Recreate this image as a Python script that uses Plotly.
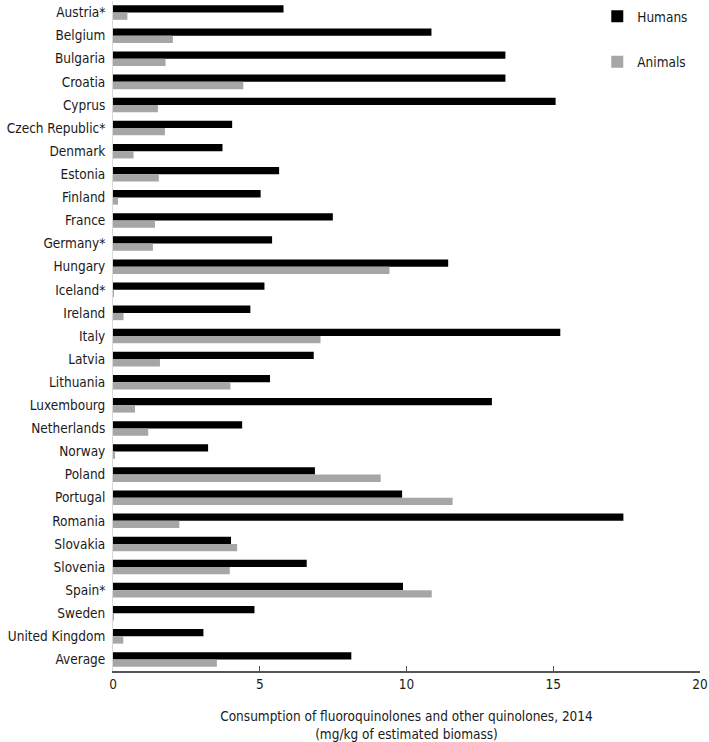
import plotly.graph_objects as go

countries = [
    "Austria*", "Belgium", "Bulgaria", "Croatia", "Cyprus", "Czech Republic*",
    "Denmark", "Estonia", "Finland", "France", "Germany*", "Hungary",
    "Iceland*", "Ireland", "Italy", "Latvia", "Lithuania", "Luxembourg",
    "Netherlands", "Norway", "Poland", "Portugal", "Romania", "Slovakia",
    "Slovenia", "Spain*", "Sweden", "United Kingdom", "Average",
]

humans = [
    5.81, 10.85, 13.37, 13.37, 15.08, 4.06,
    3.73, 5.66, 5.03, 7.49, 5.42, 11.42,
    5.16, 4.68, 15.24, 6.84, 5.35, 12.91,
    4.40, 3.24, 6.88, 9.85, 17.39, 4.02,
    6.60, 9.88, 4.82, 3.08, 8.12,
]
animals = [
    0.49, 2.04, 1.79, 4.44, 1.53, 1.77,
    0.70, 1.56, 0.17, 1.43, 1.36, 9.42,
    0.02, 0.36, 7.07, 1.60, 4.00, 0.75,
    1.20, 0.07, 9.12, 11.57, 2.26, 4.23,
    3.98, 10.86, 0.03, 0.35, 3.54,
]

x_ticks = [0, 5, 10, 15, 20]
x_title = ("Consumption of fluoroquinolones and other quinolones, 2014<br>"
           "(mg/kg of estimated biomass)")

FONT = "DejaVu Sans Condensed, DejaVu Sans, sans-serif"

fig = go.Figure()
fig.add_trace(go.Bar(
    y=countries, x=humans, orientation="h", name="Humans",
    marker=dict(color="#000000", line=dict(width=0)),
    legendgroup="h",
))
fig.add_trace(go.Bar(
    y=countries, x=animals, orientation="h", name="Animals",
    marker=dict(color="#a6a6a6", line=dict(width=0)),
    legendgroup="a",
))

fig.update_layout(
    width=709, height=742,
    margin=dict(l=113, r=9, t=1, b=71),
    paper_bgcolor="white", plot_bgcolor="white",
    barmode="group", bargap=0.37, bargroupgap=0,
    font=dict(family=FONT, size=13.5, color="#1a1a1a"),
    legend=dict(
        x=0.825, y=1.0, xanchor="left", yanchor="top",
        traceorder="grouped", tracegroupgap=25,
        font=dict(size=13.5), bgcolor="rgba(0,0,0,0)",
        itemwidth=30,
    ),
    xaxis=dict(
        range=[0, 20], tickvals=x_ticks, showgrid=False, zeroline=False,
        showline=True, linecolor="#555555", linewidth=1.5,
        ticks="inside", ticklen=5, tickcolor="#555555",
        automargin=False, ticklabeloverflow="allow",
        title=dict(text=x_title, font=dict(size=13.5), standoff=21),
    ),
    yaxis=dict(
        autorange="reversed", showgrid=False, zeroline=False,
        showline=True, linecolor="#d9d9d9", linewidth=1,
        ticks="", ticklabelstandoff=4, automargin=False,
    ),
)

# drop the browser's default 8px body margin so the figure sits at the corner
fig.write_html("out.html", config={"displayModeBar": False},
               post_script="document.body.style.margin='0';")
